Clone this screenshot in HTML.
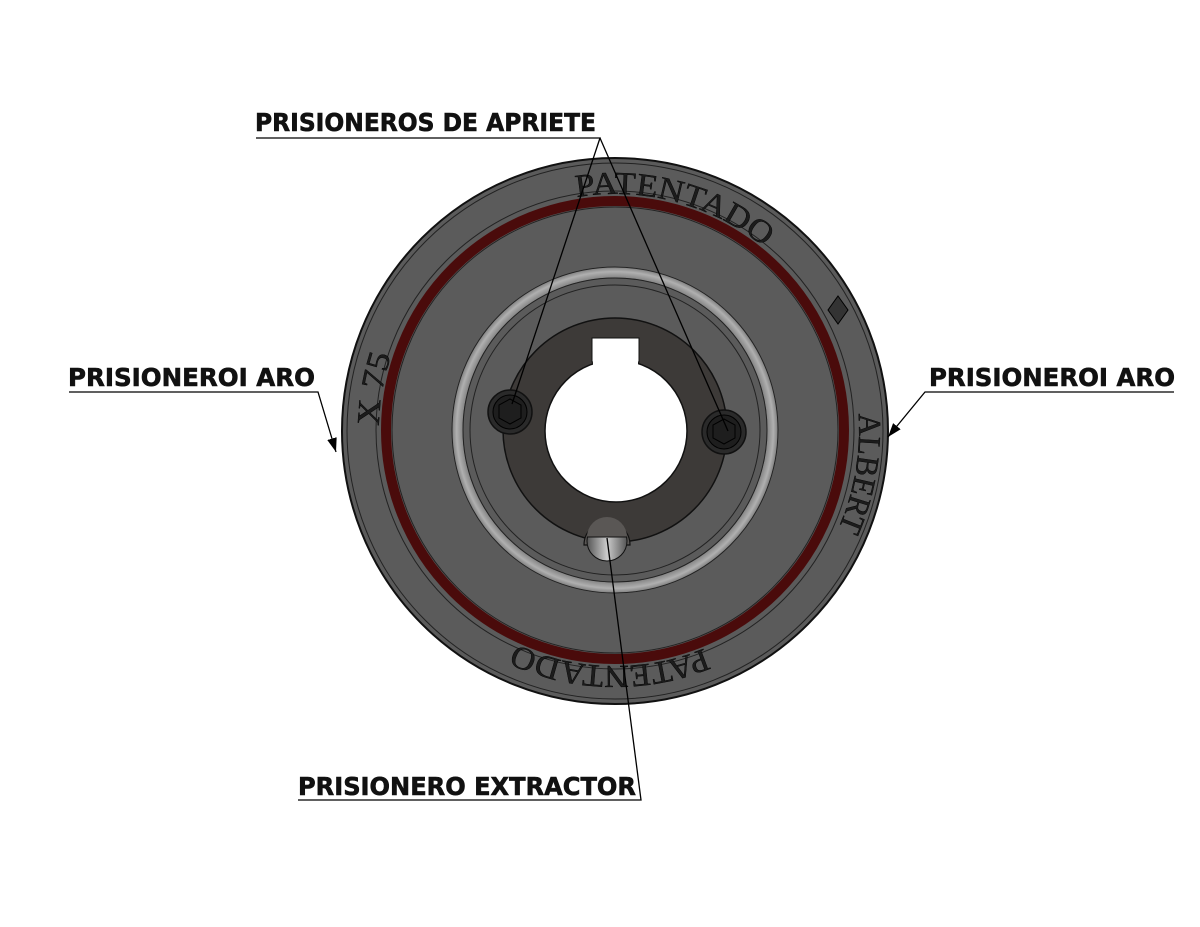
<!DOCTYPE html>
<html><head><meta charset="utf-8"><style>html,body{margin:0;padding:0;background:#fff}svg{display:block}</style></head>
<body>
<svg width="1200" height="927" viewBox="0 0 1200 927" xmlns="http://www.w3.org/2000/svg">
<defs>
<radialGradient id="lr" cx="615" cy="430" r="165" gradientUnits="userSpaceOnUse">
<stop offset="0.9" stop-color="#6a6a6a"/><stop offset="0.96" stop-color="#b0b0b0"/><stop offset="1" stop-color="#6a6a6a"/></radialGradient>
<linearGradient id="ex" x1="0" y1="0" x2="1" y2="0"><stop offset="0" stop-color="#555"/><stop offset="0.5" stop-color="#ccc"/><stop offset="1" stop-color="#555"/></linearGradient>
<path id="tp" d="M379,430 A236,236 0 1 1 851,430 A236,236 0 1 1 379,430"/>
<path id="tp2" d="M371,430 A244,244 0 1 1 859,430 A244,244 0 1 1 371,430"/>
<marker id="ar" viewBox="0 0 10 10" refX="10" refY="5" markerWidth="14" markerHeight="14" markerUnits="userSpaceOnUse" orient="auto"><path d="M0,1.5 L10,5 L0,8.5 z" fill="#000"/></marker>
</defs>
<circle cx="615" cy="431" r="273" fill="#5b5b5b" stroke="#111" stroke-width="2"/>
<circle cx="615" cy="431" r="268" fill="none" stroke="#222" stroke-width="1"/>
<circle cx="615" cy="430" r="239" fill="none" stroke="#222" stroke-width="1"/>
<circle cx="615" cy="430" r="229" fill="none" stroke="#4a0b0b" stroke-width="10"/>
<circle cx="615" cy="430" r="223" fill="none" stroke="#222" stroke-width="1"/>
<circle cx="615" cy="430" r="158" fill="none" stroke="url(#lr)" stroke-width="11"/>
<circle cx="615" cy="430" r="163" fill="none" stroke="#222" stroke-width="1"/>
<circle cx="615" cy="430" r="152" fill="none" stroke="#222" stroke-width="1"/>
<circle cx="615" cy="430" r="145" fill="none" stroke="#222" stroke-width="1"/>
<circle cx="615" cy="430" r="112" fill="#3d3a38" stroke="#111" stroke-width="1.5"/>
<path d="M592,362 L592,338 L639,338 L639,362 Z" fill="#fff" stroke="#111" stroke-width="1"/>
<circle cx="616" cy="431" r="71" fill="#fff" stroke="#111" stroke-width="1.5"/>
<rect x="593" y="345" width="45" height="20" fill="#fff"/>
<circle cx="510" cy="412" r="22" fill="#2a2a2a" stroke="#111" stroke-width="1.5"/>
<circle cx="510" cy="412" r="17" fill="#1e1e1e" stroke="#000" stroke-width="1"/>
<polygon points="510,399 521,405 521,418 510,424 499,418 499,405" fill="none" stroke="#000" stroke-width="1"/>
<circle cx="724" cy="432" r="22" fill="#2a2a2a" stroke="#111" stroke-width="1.5"/>
<circle cx="724" cy="432" r="17" fill="#1e1e1e" stroke="#000" stroke-width="1"/>
<polygon points="724,419 735,425 735,438 724,444 713,438 713,425" fill="none" stroke="#000" stroke-width="1"/>
<path d="M584,545 A23,23 0 0 1 630,545 Z" fill="#5a5755" stroke="#111" stroke-width="1.2"/>
<circle cx="607" cy="541" r="20" fill="url(#ex)" stroke="#111" stroke-width="1"/>
<path d="M587,537 L627,537 A20,20 0 0 0 587,537 Z" fill="#5a5755"/>
<line x1="587" y1="537" x2="627" y2="537" stroke="#111" stroke-width="1"/>
<g font-family="Liberation Serif, serif" font-size="32" fill="#1c1c1c" stroke="#000" stroke-width="0.4">
<text><textPath href="#tp" startOffset="332" textLength="200" lengthAdjust="spacingAndGlyphs">PATENTADO</textPath></text>
<text><textPath href="#tp2" startOffset="750" textLength="118" lengthAdjust="spacingAndGlyphs">ALBERT</textPath></text>
<text><textPath href="#tp" startOffset="1020" textLength="194" lengthAdjust="spacingAndGlyphs">PATENTADO</textPath></text>
<text><textPath href="#tp" startOffset="4" textLength="72" lengthAdjust="spacingAndGlyphs">X 75</textPath></text>
</g>
<polygon points="838,296 848,310 838,324 828,310" fill="#333" stroke="#000" stroke-width="1"/>
<g stroke="#000" stroke-width="1.3" fill="none">
<polyline points="256,138 600,138 512,404"/>
<line x1="600" y1="138" x2="728" y2="431"/>
<polyline points="69,392 318,392 336,452" marker-end="url(#ar)"/>
<polyline points="1174,392 925,392 888,437" marker-end="url(#ar)"/>
<polyline points="298,800 641,800 607,538"/>
</g>
<g font-family="DejaVu Sans, Liberation Sans, sans-serif" font-weight="bold" font-size="25" fill="#111" stroke="#111" stroke-width="0.6">
<text x="255" y="131" textLength="341" lengthAdjust="spacingAndGlyphs">PRISIONEROS DE APRIETE</text>
<text x="68" y="386" textLength="247" lengthAdjust="spacingAndGlyphs">PRISIONEROI ARO</text>
<text x="929" y="386" textLength="246" lengthAdjust="spacingAndGlyphs">PRISIONEROI ARO</text>
<text x="298" y="795" textLength="338" lengthAdjust="spacingAndGlyphs">PRISIONERO EXTRACTOR</text>
</g>
</svg>
</body></html>
